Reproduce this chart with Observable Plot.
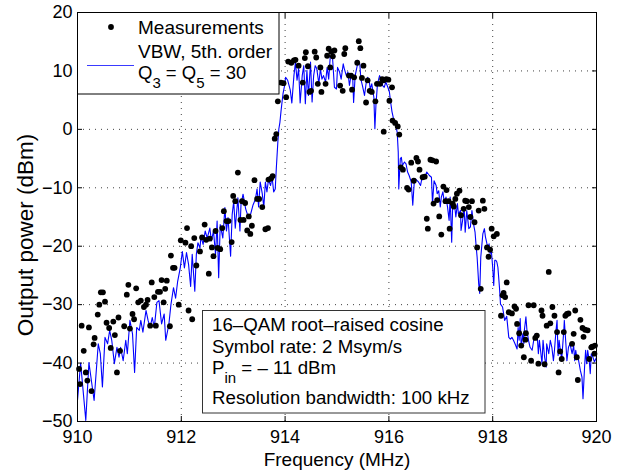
<!DOCTYPE html>
<html><head><meta charset="utf-8">
<script src="https://cdn.jsdelivr.net/npm/d3@7"></script>
<script src="https://cdn.jsdelivr.net/npm/@observablehq/plot@0.6"></script>
<style>
body{margin:0;background:#fff;}
#chart{width:627px;height:472px;}
</style></head><body><div id="chart"></div>
<script>
// Measured spectrum (frequency MHz, output power dBm)
const measFreq = [910.03,910.05,910.08,910.12,910.16,910.19,910.22,910.27,910.31,910.33,910.39,910.42,910.45,910.49,910.53,910.56,910.61,910.64,910.69,910.72,910.76,910.79,910.82,910.90,910.95,910.98,911.01,911.06,911.09,911.13,911.17,911.22,911.28,911.32,911.35,911.40,911.43,911.48,911.51,911.55,911.59,911.62,911.66,911.69,911.72,911.78,911.80,911.84,911.87,911.95,911.99,912.08,912.11,912.14,912.19,912.21,912.25,912.29,912.36,912.40,912.45,912.48,912.53,912.55,912.59,912.62,912.66,912.70,912.75,912.79,912.82,912.87,912.91,912.97,913.00,913.04,913.09,913.14,913.17,913.20,913.23,913.27,913.30,913.33,913.36,913.41,913.46,913.50,913.56,913.62,913.67,913.68,913.73,913.76,913.80,913.83,913.86,913.92,913.97,914.02,914.06,914.12,914.17,914.20,914.26,914.34,914.38,914.40,914.44,914.47,914.50,914.57,914.60,914.63,914.68,914.70,914.78,914.81,914.84,914.87,914.89,914.92,914.95,915.06,915.11,915.14,915.16,915.23,915.27,915.29,915.33,915.39,915.42,915.45,915.48,915.51,915.56,915.59,915.63,915.67,915.74,915.77,915.83,915.87,915.90,915.90,915.95,915.99,916.01,916.06,916.07,916.12,916.17,916.20,916.23,916.27,916.35,916.38,916.43,916.48,916.53,916.56,916.59,916.65,916.69,916.73,916.75,916.80,916.84,916.86,916.91,916.93,916.97,917.01,917.05,917.09,917.11,917.15,917.17,917.23,917.25,917.28,917.31,917.36,917.39,917.44,917.47,917.50,917.54,917.57,917.60,917.65,917.70,917.73,917.77,917.81,917.84,917.89,917.92,917.95,917.98,918.02,918.08,918.16,918.19,918.21,918.24,918.27,918.31,918.37,918.42,918.45,918.47,918.51,918.55,918.60,918.63,918.64,918.69,918.74,918.79,918.82,918.85,918.88,918.94,918.96,919.00,919.04,919.08,919.11,919.15,919.19,919.24,919.27,919.30,919.33,919.37,919.40,919.43,919.46,919.53,919.56,919.59,919.62,919.64,919.69,919.73,919.75,919.78,919.83,919.86,919.90,919.92,919.96,919.97];
const measDb = [-41.0,-43.6,-33.6,-37.9,-41.6,-43.0,-33.9,-44.8,-36.8,-35.7,-31.7,-30.0,-27.9,-27.9,-29.5,-33.1,-34.0,-37.4,-32.9,-35.2,-41.6,-32.2,-37.9,-33.7,-28.3,-26.6,-34.1,-31.6,-32.5,-27.2,-29.6,-29.3,-30.4,-30.0,-29.2,-33.6,-26.2,-28.7,-33.6,-27.8,-27.8,-25.8,-29.6,-27.3,-25.9,-33.7,-21.6,-23.7,-23.7,-30.0,-19.0,-19.4,-16.9,-31.0,-20.0,-32.5,-18.6,-23.3,-20.9,-18.5,-16.3,-18.9,-24.7,-18.7,-20.2,-21.7,-17.4,-20.3,-20.5,-16.9,-14.0,-15.7,-15.7,-19.3,-11.4,-12.3,-7.4,-15.5,-12.3,-15.5,-12.6,-17.3,-14.9,-17.9,-16.5,-8.7,-11.9,-11.9,-13.3,-17.1,-16.9,-8.6,-8.4,-8.0,-1.6,-0.8,4.8,8.0,7.9,5.5,11.6,11.4,11.8,11.9,10.9,8.0,12.2,13.2,10.8,6.4,6.6,13.3,12.3,7.8,10.6,6.4,7.8,12.6,13.8,10.6,13.3,12.5,13.5,7.5,6.6,12.9,13.9,9.2,9.2,6.8,8.9,11.4,15.1,13.9,8.8,10.9,4.6,8.4,6.6,6.4,4.8,7.8,7.8,8.6,8.4,-0.4,8.6,8.5,4.9,7.2,1.5,1.1,0.5,-0.9,-6.5,-6.9,-10.0,-10.3,-5.7,-8.8,-4.9,-5.5,-6.9,-8.2,-8.1,-15.3,-17.0,-5.2,-5.3,-12.7,-5.5,-12.1,-14.9,-18.0,-9.8,-12.3,-10.4,-12.3,-17.0,-12.7,-13.2,-11.9,-11.0,-10.5,-14.7,-13.6,-12.2,-12.3,-13.3,-15.0,-12.3,-15.9,-20.2,-13.9,-27.3,-12.2,-13.6,-20.2,-21.8,-20.6,-17.0,-18.3,-17.9,-31.9,-28.4,-28.0,-28.7,-26.2,-31.3,-31.5,-30.3,-30.7,-33.3,-34.9,-37.0,-39.0,-36.0,-34.9,-30.1,-39.6,-30.1,-35.7,-35.3,-40.1,-31.0,-31.9,-40.2,-33.6,-24.4,-33.2,-30.4,-31.9,-34.7,-41.6,-38.0,-39.3,-34.7,-31.9,-31.6,-31.5,-36.7,-35.0,-31.0,-39.0,-42.9,-32.6,-34.0,-35.5,-34.3,-34.4,-39.3,-37.3,-37.2,-38.4,-37.0];

// Simulated VBW, 5th order model (frequency MHz, dBm)
const vbwFreq = [910.00,910.06,910.16,910.22,910.32,910.40,910.44,910.48,910.53,910.58,910.62,910.66,910.71,910.76,910.80,910.83,910.88,910.93,910.96,911.01,911.06,911.10,911.14,911.19,911.22,911.26,911.32,911.36,911.40,911.44,911.48,911.53,911.57,911.62,911.67,911.70,911.76,911.80,911.85,911.89,911.93,911.98,912.02,912.06,912.10,912.14,912.18,912.21,912.26,912.29,912.32,912.36,912.38,912.42,912.46,912.50,912.55,912.58,912.62,912.66,912.69,912.72,912.75,912.80,912.84,912.87,912.90,912.95,912.98,913.01,913.04,913.09,913.13,913.15,913.19,913.24,913.29,913.33,913.38,913.43,913.46,913.49,913.52,913.56,913.59,913.62,913.65,913.68,913.72,913.75,913.78,913.81,913.83,913.86,913.88,913.90,913.92,913.94,913.96,913.99,914.01,914.05,914.10,914.13,914.17,914.20,914.23,914.26,914.29,914.33,914.36,914.39,914.42,914.45,914.49,914.52,914.55,914.58,914.61,914.65,914.68,914.71,914.74,914.78,914.81,914.84,914.87,914.91,914.95,914.99,915.01,915.05,915.08,915.12,915.14,915.18,915.21,915.24,915.27,915.30,915.32,915.35,915.39,915.40,915.44,915.46,915.49,915.53,915.56,915.59,915.62,915.64,915.67,915.71,915.73,915.75,915.78,915.82,915.85,915.88,915.91,915.94,915.98,916.01,916.03,916.06,916.09,916.12,916.16,916.18,916.19,916.22,916.24,916.26,916.30,916.33,916.36,916.39,916.43,916.46,916.49,916.51,916.57,916.61,916.64,916.69,916.73,916.78,916.82,916.84,916.87,916.91,916.93,916.96,916.99,917.01,917.04,917.07,917.10,917.13,917.16,917.18,917.21,917.23,917.27,917.29,917.32,917.34,917.38,917.39,917.42,917.45,917.47,917.50,917.54,917.57,917.60,917.63,917.66,917.68,917.70,917.73,917.75,917.77,917.79,917.81,917.84,917.86,917.89,917.91,917.93,917.95,917.97,918.00,918.02,918.04,918.06,918.08,918.10,918.13,918.15,918.19,918.23,918.27,918.31,918.34,918.37,918.40,918.43,918.47,918.49,918.51,918.53,918.55,918.58,918.60,918.61,918.64,918.66,918.69,918.72,918.76,918.79,918.82,918.86,918.88,918.90,918.95,918.97,919.00,919.03,919.04,919.08,919.11,919.14,919.17,919.19,919.22,919.24,919.26,919.28,919.30,919.33,919.37,919.38,919.41,919.43,919.46,919.49,919.53,919.56,919.58,919.60,919.62,919.65,919.69,919.72,919.74,919.77,919.79,919.81,919.83,919.86,919.88,919.90,919.92,919.96,920.00];
const vbwDb = [-46.4,-40.0,-49.8,-39.9,-46.4,-36.7,-38.4,-44.1,-35.6,-36.7,-34.4,-36.1,-40.1,-37.3,-39.0,-37.3,-39.6,-36.1,-38.4,-32.7,-35.0,-41.6,-33.9,-34.4,-32.7,-34.7,-31.0,-32.7,-33.9,-32.2,-33.9,-29.6,-29.3,-33.3,-31.6,-36.1,-33.4,-30.0,-27.1,-28.9,-26.0,-23.7,-20.9,-23.7,-21.1,-23.1,-26.9,-21.4,-27.7,-21.4,-19.4,-20.3,-18.3,-19.7,-17.4,-18.6,-16.9,-19.1,-17.4,-21.4,-15.7,-25.4,-16.3,-18.6,-13.4,-17.4,-15.1,-21.7,-14.6,-12.3,-16.9,-11.7,-17.4,-12.9,-11.1,-13.6,-15.0,-14.7,-13.0,-11.9,-10.2,-13.3,-9.0,-11.0,-13.3,-9.0,-10.7,-8.6,-9.6,-8.2,-10.7,-10.2,-6.8,-2.2,0.1,1.2,3.0,4.6,6.1,7.5,8.9,8.4,6.7,4.5,9.2,11.5,8.4,10.4,4.5,9.2,10.9,4.4,10.1,5.8,11.5,4.7,9.2,10.9,10.4,7.8,10.4,8.6,9.2,8.1,10.6,8.6,12.4,12.8,7.2,6.9,10.6,9.8,8.6,11.2,10.4,9.2,9.8,7.5,9.2,9.5,4.6,9.2,10.9,11.8,11.2,8.6,7.5,5.8,7.8,8.9,8.4,6.9,7.8,5.5,0.1,4.1,7.8,9.2,8.6,7.5,7.2,8.1,7.2,6.4,4.9,3.0,1.8,1.2,-0.5,-3.9,-10.2,-5.0,-4.8,-6.2,-5.6,-5.9,-7.3,-7.9,-9.0,-13.0,-8.8,-8.5,-9.0,-9.6,-8.2,-8.2,-7.3,-7.9,-8.2,-12.7,-8.8,-9.6,-11.0,-10.5,-13.3,-11.6,-10.7,-12.7,-11.6,-13.3,-15.6,-11.6,-19.3,-12.7,-13.3,-15.0,-12.7,-14.5,-13.9,-17.3,-15.6,-13.3,-17.6,-13.9,-17.0,-16.7,-13.9,-16.2,-17.6,-19.9,-21.9,-26.4,-28.1,-21.9,-19.9,-17.9,-17.0,-18.4,-19.6,-20.2,-19.6,-21.3,-20.4,-23.6,-26.7,-22.4,-22.4,-22.7,-23.6,-27.0,-29.9,-30.4,-32.7,-32.0,-35.6,-35.9,-35.6,-36.1,-36.7,-37.6,-33.9,-36.1,-32.4,-37.3,-35.0,-36.7,-34.4,-32.1,-34.4,-36.1,-37.3,-37.8,-36.1,-35.0,-35.6,-38.4,-36.1,-40.1,-36.1,-39.0,-40.7,-36.7,-38.4,-36.1,-37.3,-39.6,-37.8,-34.4,-32.7,-38.7,-36.1,-37.6,-39.3,-34.4,-32.7,-36.7,-39.6,-37.3,-36.7,-38.4,-37.0,-39.6,-37.8,-39.0,-39.3,-41.3,-42.4,-46.1,-40.7,-37.8,-40.1,-37.8,-39.6,-41.8,-38.4,-38.7,-39.8,-39.0];

const xTicks = [910, 912, 914, 916, 918, 920];
const yTicks = [-50, -40, -30, -20, -10, 0, 10, 20];
const xLabel = "Frequency (MHz)";
const yLabel = "Output power (dBm)";
const legendMeas = "Measurements";
const legendVbw1 = "VBW, 5th. order";
const infoLines = ["16–QAM root–raised cosine", "Symbol rate: 2 Msym/s", "Resolution bandwidth: 100 kHz"];
const pinText = ["P", "in", " = – 11 dBm"];

const font = "'Liberation Sans', Arial, Helvetica, sans-serif";
const meas = measFreq.map((f, i) => ({f, v: measDb[i]}));
const vbw = vbwFreq.map((f, i) => ({f, v: vbwDb[i]}));
const blank = () => "";

const plot = Plot.plot({
  width: 627, height: 472,
  marginLeft: 77, marginRight: 31, marginTop: 12, marginBottom: 51,
  style: {fontFamily: font, fontSize: "18px", color: "#000", background: "#fff", overflow: "visible"},
  x: {domain: [910, 920]},
  y: {domain: [-50, 20]},
  marks: [
    Plot.gridX(xTicks.slice(1, -1), {stroke: "#000", strokeOpacity: 0.75, strokeDasharray: "1,5"}),
    Plot.gridY(yTicks.slice(1, -1), {stroke: "#000", strokeOpacity: 0.75, strokeDasharray: "1,5"}),
    Plot.line(vbw, {x: "f", y: "v", stroke: "#0000ff", strokeWidth: 1.1}),
    Plot.dot(meas, {x: "f", y: "v", r: 2.9, fill: "#000", stroke: "none"}),
    Plot.axisX(xTicks, {anchor: "bottom", tickSize: 0, tickPadding: 9, fontSize: 18, label: null}),
    Plot.axisX(xTicks, {anchor: "bottom", tickSize: -5, tickFormat: blank, label: null}),
    Plot.axisX(xTicks, {anchor: "top", tickSize: -5, tickFormat: blank, label: null}),
    Plot.axisY(yTicks, {anchor: "left", tickSize: 0, tickPadding: 5, fontSize: 18, label: null}),
    Plot.axisY(yTicks, {anchor: "left", tickSize: -5, tickFormat: blank, label: null}),
    Plot.axisY(yTicks, {anchor: "right", tickSize: -5, tickFormat: blank, label: null}),
    Plot.frame({stroke: "#000", strokeWidth: 1}),
    Plot.text([xLabel], {frameAnchor: "bottom", lineAnchor: "middle", textAnchor: "middle", dy: 38, fontSize: 19, fill: "#000"}),
    Plot.text([yLabel], {frameAnchor: "left", lineAnchor: "middle", textAnchor: "middle", rotate: -90, dx: -52, dy: 18, fontSize: 22.5, fill: "#000"})
  ]
});
document.getElementById("chart").appendChild(plot);

const svg = d3.select(plot);
// drop the empty labels of the tick-only axes
svg.selectAll("text").filter(function () { return this.textContent === ""; }).remove();

// Legend box (upper left) and annotation box (bottom)
const lg = svg.append("g").attr("font-family", font).attr("fill", "#000").attr("text-anchor", "start");
lg.append("rect").attr("x", 77.5).attr("y", 12.5).attr("width", 201.5).attr("height", 81.5)
  .attr("fill", "#fff").attr("stroke", "#000").attr("stroke-width", 1);
lg.append("circle").attr("cx", 111).attr("cy", 27).attr("r", 2.9).attr("fill", "#000");
lg.append("text").attr("x", 138).attr("y", 34).attr("font-size", 19).text(legendMeas);
lg.append("text").attr("x", 138).attr("y", 58).attr("font-size", 19).text(legendVbw1);
lg.append("line").attr("x1", 87).attr("x2", 134).attr("y1", 65.5).attr("y2", 65.5)
  .attr("stroke", "#3a3aff").attr("stroke-width", 1.1);
const q = lg.append("text").attr("x", 138).attr("y", 79).attr("font-size", 18.5);
q.append("tspan").text("Q");
q.append("tspan").attr("dy", 9).attr("font-size", 15).text("3");
q.append("tspan").attr("dy", -9).text(" = Q");
q.append("tspan").attr("dy", 9).attr("font-size", 15).text("5");
q.append("tspan").attr("dy", -9).text(" = 30");

const ib = svg.append("g").attr("font-family", font).attr("fill", "#000").attr("text-anchor", "start");
ib.append("rect").attr("x", 202.5).attr("y", 310.5).attr("width", 282.5).attr("height", 102.5)
  .attr("fill", "#fff").attr("stroke", "#333").attr("stroke-width", 1);
ib.append("text").attr("x", 212).attr("y", 331).attr("font-size", 18.7).text(infoLines[0]);
ib.append("text").attr("x", 212).attr("y", 352.5).attr("font-size", 18.7).text(infoLines[1]);
const p = ib.append("text").attr("x", 212).attr("y", 374).attr("font-size", 18.7);
p.append("tspan").text(pinText[0]);
p.append("tspan").attr("dy", 9).attr("font-size", 15).text(pinText[1]);
p.append("tspan").attr("dy", -9).text(pinText[2]);
ib.append("text").attr("x", 212).attr("y", 403.5).attr("font-size", 18.7).text(infoLines[2]);
</script>
</body></html>
